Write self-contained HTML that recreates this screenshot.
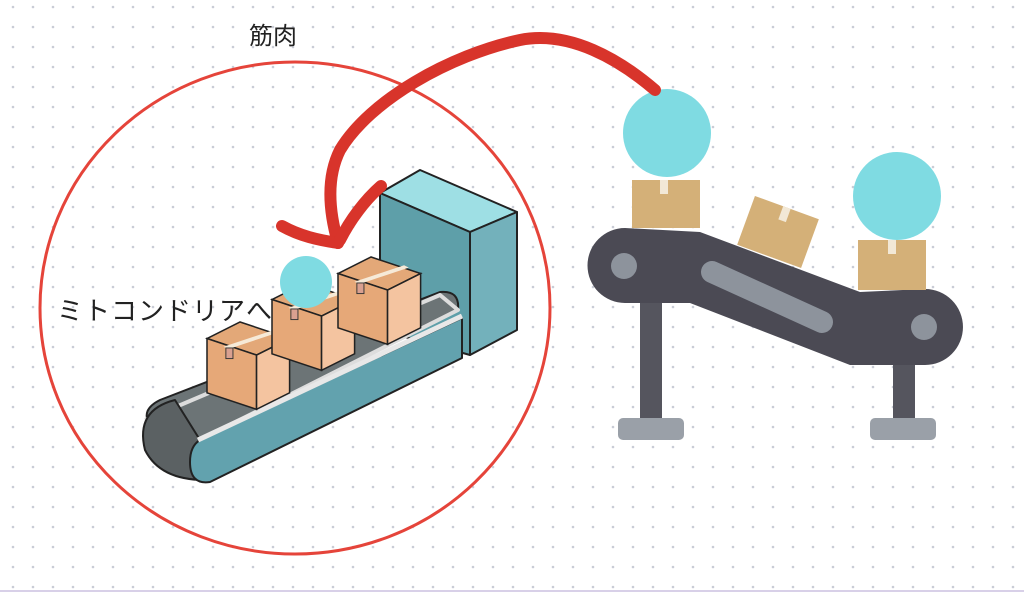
<!DOCTYPE html>
<html><head><meta charset="utf-8"><style>
html,body{margin:0;padding:0;background:#fff;}
svg{display:block}
text{font-family:"Liberation Sans","Noto Sans CJK JP",sans-serif;fill:#222}
</style></head><body>
<svg width="1024" height="593" viewBox="0 0 1024 593" xmlns="http://www.w3.org/2000/svg">
<defs>
<pattern id="dots" x="3" y="-3" width="20" height="20" patternUnits="userSpaceOnUse">
<circle cx="10" cy="10" r="1.3" fill="#c9ccd6"/>
</pattern>
<g id="box">
<polygon points="0,14 28,0 70,14 42,28" fill="#e3a878" stroke="#222" stroke-width="1.3"/>
<polygon points="0,14 42,28 42,74 0,60" fill="#e6a878" stroke="#222" stroke-width="1.3"/>
<polygon points="42,28 70,14 70,60 42,74" fill="#f4c4a0" stroke="#222" stroke-width="1.3"/>
<polygon points="14,21 56,7 60,9 18,23" fill="#f6ead8"/>
<rect x="16" y="22" width="6" height="9" fill="#d9a090" stroke="#333" stroke-width="0.8"/>
</g>
</defs>
<rect width="1024" height="593" fill="#fff"/>
<rect width="1024" height="593" fill="url(#dots)"/>

<ellipse cx="295" cy="308" rx="255" ry="246" fill="none" stroke="#e5443a" stroke-width="3"/>
<text x="249" y="44" font-size="24">筋肉</text>
<text x="57" y="320" font-size="26" letter-spacing="1">ミトコンドリアへ</text>

<g stroke="#222" stroke-width="2" stroke-linejoin="round">
<polygon points="380,193 420,170 517,212 470,232" fill="#9edfe4"/>
<polygon points="380,193 470,232 470,355 380,330" fill="#5e9fa9"/>
<polygon points="470,232 517,212 517,330 470,355" fill="#73b1bb"/>
<path d="M150,425 Q140,410 160,400 L440,292 Q460,290 458,310 L205,440 Z" fill="#6c7476"/>
<path d="M145,420 L440,295 L458,310 L200,440" fill="none" stroke="#ddd" stroke-width="4"/>
<path d="M175,400 Q135,410 145,450 Q160,480 205,480 L200,440 Z" fill="#5b6163"/>
<path d="M200,440 L462,318 L462,358 L210,482 Q190,485 190,462 Q190,446 200,440 Z" fill="#62a2ae"/>
<path d="M198,440 L462,316" fill="none" stroke="#e8e8e8" stroke-width="5"/>
</g>
<use href="#box" transform="translate(207,322) scale(1.18)"/>
<use href="#box" transform="translate(272,283) scale(1.18)"/>
<use href="#box" transform="translate(338,257) scale(1.18)"/>
<circle cx="306" cy="282" r="26" fill="#7fdbe2"/>

<rect x="640" y="295" width="22" height="125" fill="#55555e"/>
<rect x="893" y="355" width="22" height="65" fill="#55555e"/>
<rect x="618" y="418" width="66" height="22" rx="5" fill="#9aa0a8"/>
<rect x="870" y="418" width="66" height="22" rx="5" fill="#9aa0a8"/>
<path d="M625,228 L700,232 L860,292 L925,289 A38,38 0 0 1 925,365 L850,365 L690,303 L625,303 A37.5,37.5 0 0 1 625,228 Z" fill="#4b4a54"/>
<line x1="712" y1="272" x2="822" y2="322" stroke="#8d939c" stroke-width="22" stroke-linecap="round"/>
<circle cx="624" cy="266" r="13" fill="#8d939c"/>
<circle cx="924" cy="327" r="13" fill="#8d939c"/>
<rect x="632" y="180" width="68" height="48" fill="#d4b078"/>
<rect x="660" y="180" width="8" height="14" fill="#f2e8d6"/>
<rect x="858" y="240" width="68" height="50" fill="#d4b078"/>
<rect x="888" y="240" width="8" height="14" fill="#f2e8d6"/>
<g transform="rotate(20 778 232)"><rect x="744" y="206" width="68" height="52" fill="#d4b078"/><rect x="774" y="206" width="8" height="14" fill="#f2e8d6"/></g>
<circle cx="667" cy="133" r="44" fill="#7fdbe2"/>
<circle cx="897" cy="196" r="44" fill="#7fdbe2"/>

<g fill="none" stroke="#d8342b" stroke-width="12" stroke-linecap="round" stroke-linejoin="round">
<path d="M655,90 C620,60 570,30 520,40 C450,55 370,100 340,150 C325,180 330,215 338,243"/>
<path d="M282,226 C300,236 318,240 338,243"/>
<path d="M381,186 C365,200 350,220 340,240"/>
</g>
<line x1="0" y1="591" x2="1024" y2="591" stroke="#d8d0e8" stroke-width="2"/>
</svg>
</body></html>
